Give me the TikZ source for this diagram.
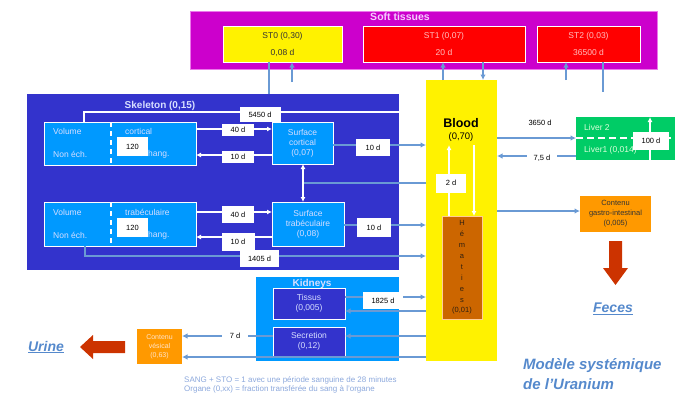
\documentclass[tikz,border=0pt]{standalone}
\usepackage{fontspec}
\setmainfont{Liberation Sans}
\usepackage{tikz}
\usetikzlibrary{arrows.meta,positioning,calc}
\usepackage{xcolor}
\definecolor{softmag}{RGB}{204,0,204}
\definecolor{softedge}{RGB}{235,120,235}
\definecolor{softtext}{RGB}{245,205,255}
\definecolor{skelblue}{RGB}{51,51,204}
\definecolor{lightblue}{RGB}{0,153,255}
\definecolor{paletext}{RGB}{215,222,255}
\definecolor{flowblue}{RGB}{106,154,212}
\definecolor{hemabrown}{RGB}{204,102,0}
\definecolor{livergreen}{RGB}{0,204,102}
\definecolor{contorange}{RGB}{255,153,0}
\definecolor{exitred}{RGB}{204,51,0}
\definecolor{titleblue}{RGB}{85,137,204}
\definecolor{footblue}{RGB}{140,168,220}

\tikzset{
  comp/.style={anchor=north west, inner sep=0pt, outer sep=0pt, align=center,
    draw=white, line width=0.6pt, font=\fontsize{8.5}{10}\selectfont},
  title/.style={inner sep=0pt, font=\fontsize{10}{12}\selectfont\bfseries},
  txt/.style={inner sep=0pt, anchor=west, text=paletext, font=\fontsize{8.5}{10}\selectfont},
  tag/.style={fill=white, inner sep=0pt, text=black, font=\fontsize{7.5}{9}\selectfont},
  flow/.style={draw=flowblue, line width=1.6pt, -{Latex[length=5.5pt,width=5.5pt]}},
  fline/.style={draw=flowblue, line width=1.6pt},
  wflow/.style={draw=white, line width=1.4pt, -{Latex[length=5pt,width=5pt]}},
  wline/.style={draw=white, line width=1.4pt},
  wdash/.style={draw=white, line width=2.2pt, dash pattern=on 5pt off 4pt},
  exit/.style={inner sep=0pt, text=titleblue, font=\fontsize{14}{16}\selectfont\bfseries\itshape}
}

\begin{document}
\begin{tikzpicture}[x=1pt,y=-1pt]
  \useasboundingbox (0,0) rectangle (682,394);

  % soft tissues
  \node[comp, draw=softedge, fill=softmag, minimum width=467pt, minimum height=58pt] (soft) at (190,11) {};
  \node[title, text=softtext, font=\fontsize{10.5}{12}\selectfont\bfseries] (softt) at (400,17) {Soft tissues};
  \node[comp, fill=yellow, text=black!80, minimum width=119pt, minimum height=36pt,
    font=\fontsize{8.5}{17}\selectfont] (st0) at (223,26) {ST0 (0,30)\\0,08 d};
  \node[comp, fill=red, text=red!25, minimum width=162pt, minimum height=36pt,
    font=\fontsize{8.5}{17}\selectfont] (st1) at (363,26) {ST1 (0,07)\\20 d};
  \node[comp, fill=red, text=red!25, minimum width=103pt, minimum height=36pt,
    font=\fontsize{8.5}{17}\selectfont] (st2) at (537,26) {ST2 (0,03)\\36500 d};

  % skeleton
  \node[comp, draw=none, fill=skelblue, minimum width=372pt, minimum height=176pt] (skel) at (27,94) {};
  \node[title, text=paletext] (skelt) at (160,106) {Skeleton (0,15)};
  \node[comp, fill=lightblue, minimum width=152pt, minimum height=43pt] (volc) at (44,122) {};
  \node[comp, fill=lightblue, text=paletext, minimum width=61pt, minimum height=42pt] (surfc) at (272,122) {Surface\\cortical\\(0,07)};
  \node[comp, fill=lightblue, minimum width=152pt, minimum height=44pt] (volt) at (44,202) {};
  \node[comp, fill=lightblue, text=paletext, minimum width=72pt, minimum height=44pt] (surft) at (272,202) {Surface\\trabéculaire\\(0,08)};

  % blood
  \node[comp, draw=none, fill=yellow, minimum width=71pt, minimum height=281pt] (blood) at (426,80) {};
  \node[inner sep=0pt, font=\fontsize{12.5}{14}\selectfont\bfseries] (bloodt) at (461,123) {Blood};
  \node[inner sep=0pt, font=\fontsize{9.5}{11}\selectfont] (bloodv) at (461,137) {(0,70)};
  \node[comp, draw=orange!40, fill=hemabrown, text=black!75!brown, minimum width=40pt, minimum height=103pt,
    font=\fontsize{7.5}{10.9}\selectfont] (hema) at (442,216) {H\\é\\m\\a\\t\\i\\e\\s\\(0,01)};

  % liver and gut
  \node[comp, draw=none, fill=livergreen, minimum width=99pt, minimum height=43pt] (liver) at (576,117) {};
  \node[txt, text=green!15] (liv2) at (584,127) {Liver 2};
  \node[txt, text=green!15] (liv1) at (584,150) {Liver1 (0,014)};
  \node[comp, draw=none, fill=contorange, text=black!80, minimum width=71pt, minimum height=36pt,
    font=\fontsize{7.5}{10}\selectfont] (gastro) at (580,196) {Contenu\\gastro-intestinal\\(0,005)};

  % kidneys
  \node[comp, draw=none, fill=lightblue, minimum width=143pt, minimum height=84pt] (kid) at (256,277) {};
  \node[title, text=paletext] (kidt) at (312,284) {Kidneys};
  \node[comp, fill=skelblue, text=paletext, minimum width=72pt, minimum height=31pt] (tiss) at (273,288) {Tissus\\(0,005)};
  \node[comp, fill=skelblue, text=paletext, minimum width=72pt, minimum height=29pt] (secr) at (273,327) {Secretion\\(0,12)};
  \node[comp, draw=none, fill=contorange, text=orange!20, minimum width=45pt, minimum height=35pt,
    font=\fontsize{7}{9}\selectfont] (vesic) at (137,329) {Contenu\\vésical\\(0,63)};

  % soft tissue exchanges
  \coordinate (st0up) at (292,82);
  \coordinate (st2up) at (566,80);
  \coordinate (st2dn) at (603,92);
  \draw[fline] (st0.south -| 269,0) -- (skel.north -| 269,0);
  \draw[flow] (st0up) -- (st0.south -| st0up);
  \draw[flow] (blood.north -| 443,0) -- (st1.south -| 443,0);
  \draw[flow] (st1.south -| 483,0) -- (blood.north -| 483,0);
  \draw[flow] (st2up) -- (st2.south -| st2up);
  \draw[fline] (st2.south -| st2dn) -- (st2dn);

  % skeleton inside
  \draw[wdash] (volc.north -| 111,0) -- (volc.south -| 111,0);
  \draw[wdash] (volt.north -| 111,0) -- (volt.south -| 111,0);
  \node[txt] (vc1) at (53,131) {Volume};
  \node[txt] (vc2) at (53,154) {Non éch.};
  \node[txt] (vc3) at (125,131) {cortical};
  \node[txt] (vc4) at (139,154) {échang.};
  \node[tag, minimum width=31pt, minimum height=19pt] (vcn) at (132.5,146.5) {120};
  \node[txt] (vt1) at (53,212) {Volume};
  \node[txt] (vt2) at (53,235) {Non éch.};
  \node[txt] (vt3) at (125,212) {trabéculaire};
  \node[txt] (vt4) at (139,235) {échang.};
  \node[tag, minimum width=31pt, minimum height=19pt] (vtn) at (132.5,227.5) {120};

  \draw[wline] (volc.north -| 84,0) |- (skel.east |- 0,112);
  \draw[wflow] (volc.east |- 0,129) -- (surfc.west |- 0,129);
  \draw[wflow] (surfc.west |- 0,155) -- (volc.east |- 0,155);
  \draw[flow] (surfc.east |- 0,145) -- (blood.west |- 0,145);
  \draw[fline] (blood.west |- 0,183) -- (303,183);
  \draw[wline, {Latex[length=5pt,width=5pt]}-{Latex[length=5pt,width=5pt]}] (surfc.south -| 303,0) -- (surft.north -| 303,0);
  \draw[wflow] (volt.east |- 0,212) -- (surft.west |- 0,212);
  \draw[wflow] (surft.west |- 0,237) -- (volt.east |- 0,237);
  \draw[flow] (surft.east |- 0,225) -- (blood.west |- 0,225);
  \draw[flow] (volt.south -| 85,0) |- (blood.west |- 0,256);
  \node[tag, minimum width=41pt, minimum height=15pt] (k5450) at (260,114.5) {5450 d};
  \node[tag, minimum width=32pt, minimum height=12pt] (kc40) at (238,130) {40 d};
  \node[tag, minimum width=32pt, minimum height=12pt] (kc10) at (238,156.5) {10 d};
  \node[tag, minimum width=34pt, minimum height=17pt] (kcb) at (373,147.5) {10 d};
  \node[tag, minimum width=32pt, minimum height=17pt] (kt40) at (238,214.5) {40 d};
  \node[tag, minimum width=33pt, minimum height=18pt] (kt10) at (238,242) {10 d};
  \node[tag, minimum width=34pt, minimum height=19pt] (ktb) at (374,227.5) {10 d};
  \node[tag, minimum width=39pt, minimum height=17pt] (k1405) at (259.5,258.5) {1405 d};

  % blood and red cells
  \coordinate (hup) at (449,145);
  \coordinate (hdn) at (474,145);
  \draw[wflow] (hema.north -| hup) -- (hup);
  \draw[wflow] (hdn) -- (hema.north -| hdn);
  \node[tag, minimum width=30pt, minimum height=19pt] (k2) at (451,183) {2 d};

  % liver
  \draw[flow] (blood.east |- 0,138) -- (liver.west |- 0,138);
  \draw[flow] (liver.west |- 0,156) -- (blood.east |- 0,156);
  \node[inner sep=0pt, font=\fontsize{7.5}{9}\selectfont] (k3650) at (540,123) {3650 d};
  \node[tag, minimum width=30pt, minimum height=10pt] (k75) at (542,158) {7,5 d};
  \draw[wdash, line width=2.4pt, dash pattern=on 7pt off 4pt] (liver.west |- 0,138) -- (liver.east |- 0,138);
  \draw[wflow] (liver.south -| 650,0) -- (liver.north -| 650,0);
  \node[tag, minimum width=36pt, minimum height=18pt] (k100) at (651,141) {100 d};

  % gut
  \draw[flow] (blood.east |- 0,211) -- (gastro.west |- 0,211);
  \fill[exitred] (609,241) -- (622,241) -- (622,268) -- (628,268) -- (615.5,285)
    -- (603,268) -- (609,268) -- cycle;
  \node[exit] (feces) at (613,309) {\underline{Feces}};

  % kidneys
  \draw[flow] (tiss.east |- 0,297) -- (blood.west |- 0,297);
  \draw[flow] (blood.west |- 0,311) -- (tiss.east |- 0,311);
  \draw[flow] (blood.west |- 0,336) -- (secr.east |- 0,336);
  \draw[flow] (secr.west |- 0,336) -- (vesic.east |- 0,336);
  \draw[flow] (blood.west |- 0,357) -- (vesic.east |- 0,357);
  \node[tag, minimum width=40pt, minimum height=17pt] (k1825) at (383,300.5) {1825 d};
  \node[tag, minimum width=26pt, minimum height=10pt] (k7) at (235,336) {7 d};
  \fill[exitred] (125,341) -- (93,341) -- (93,335) -- (80,347) -- (93,359)
    -- (93,353) -- (125,353) -- cycle;
  \node[exit] (urine) at (46,347) {\underline{Urine}};

  % notes
  \node[inner sep=0pt, anchor=west, text=footblue, font=\fontsize{8}{10}\selectfont] (note1) at (184,380)
    {SANG + STO = 1 avec une période sanguine de 28 minutes};
  \node[inner sep=0pt, anchor=west, text=footblue, font=\fontsize{8}{10}\selectfont] (note2) at (184,389)
    {Organe (0,xx) = fraction transférée du sang à l’organe};
  \node[inner sep=0pt, anchor=west, align=left, text=titleblue,
    font=\fontsize{15}{20}\selectfont\bfseries\itshape] (model) at (523,374) {Modèle systémique\\de l’Uranium};
\end{tikzpicture}
\end{document}
